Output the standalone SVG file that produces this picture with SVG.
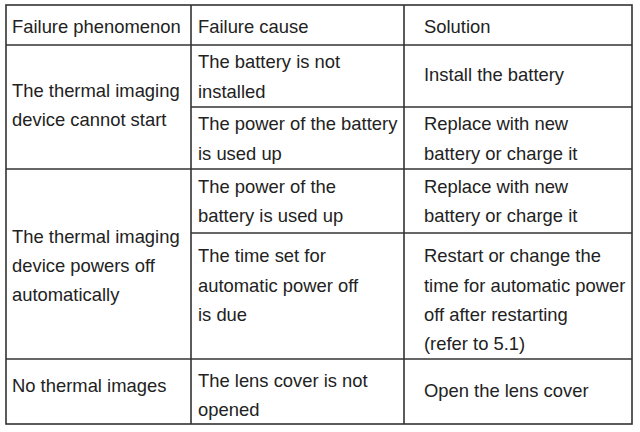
<svg xmlns="http://www.w3.org/2000/svg" width="640" height="432" viewBox="0 0 640 432">
<style>
text{font-family:"Liberation Sans",Arial,sans-serif;font-size:18.4px;fill:#222}
line{stroke:#333;stroke-width:1.6}
</style>
<rect width="640" height="432" fill="#fff"/>
<g id="grid">
<rect x="6" y="5" width="626" height="419" fill="none" stroke="#333" stroke-width="1.6"/>
<line x1="191" y1="5" x2="191" y2="424"/>
<line x1="404" y1="5" x2="404" y2="424"/>
<line x1="6" y1="45" x2="632" y2="45"/>
<line x1="191" y1="107" x2="632" y2="107"/>
<line x1="6" y1="169" x2="632" y2="169"/>
<line x1="191" y1="233" x2="632" y2="233"/>
<line x1="6" y1="359" x2="632" y2="359"/>
</g>
<g id="header">
<text x="12" y="33">Failure phenomenon</text>
<text x="198" y="33">Failure cause</text>
<text x="424" y="33">Solution</text>
</g>
<g id="row1">
<text x="12" y="97">The thermal imaging</text>
<text x="12" y="126">device cannot start</text>
<text x="198" y="68">The battery is not</text>
<text x="198" y="98">installed</text>
<text x="424" y="81">Install the battery</text>
<text x="198" y="130">The power of the battery</text>
<text x="198" y="160">is used up</text>
<text x="424" y="130">Replace with new</text>
<text x="424" y="160">battery or charge it</text>
</g>
<g id="row2">
<text x="12" y="243">The thermal imaging</text>
<text x="12" y="272">device powers off</text>
<text x="12" y="301">automatically</text>
<text x="198" y="193">The power of the</text>
<text x="198" y="222">battery is used up</text>
<text x="424" y="193">Replace with new</text>
<text x="424" y="222">battery or charge it</text>
<text x="198" y="262">The time set for</text>
<text x="198" y="292">automatic power off</text>
<text x="198" y="321">is due</text>
<text x="424" y="262">Restart or change the</text>
<text x="424" y="292">time for automatic power</text>
<text x="424" y="321">off after restarting</text>
<text x="424" y="350">(refer to 5.1)</text>
</g>
<g id="row3">
<text x="12" y="392">No thermal images</text>
<text x="198" y="387">The lens cover is not</text>
<text x="198" y="416">opened</text>
<text x="424" y="397">Open the lens cover</text>
</g>
</svg>
